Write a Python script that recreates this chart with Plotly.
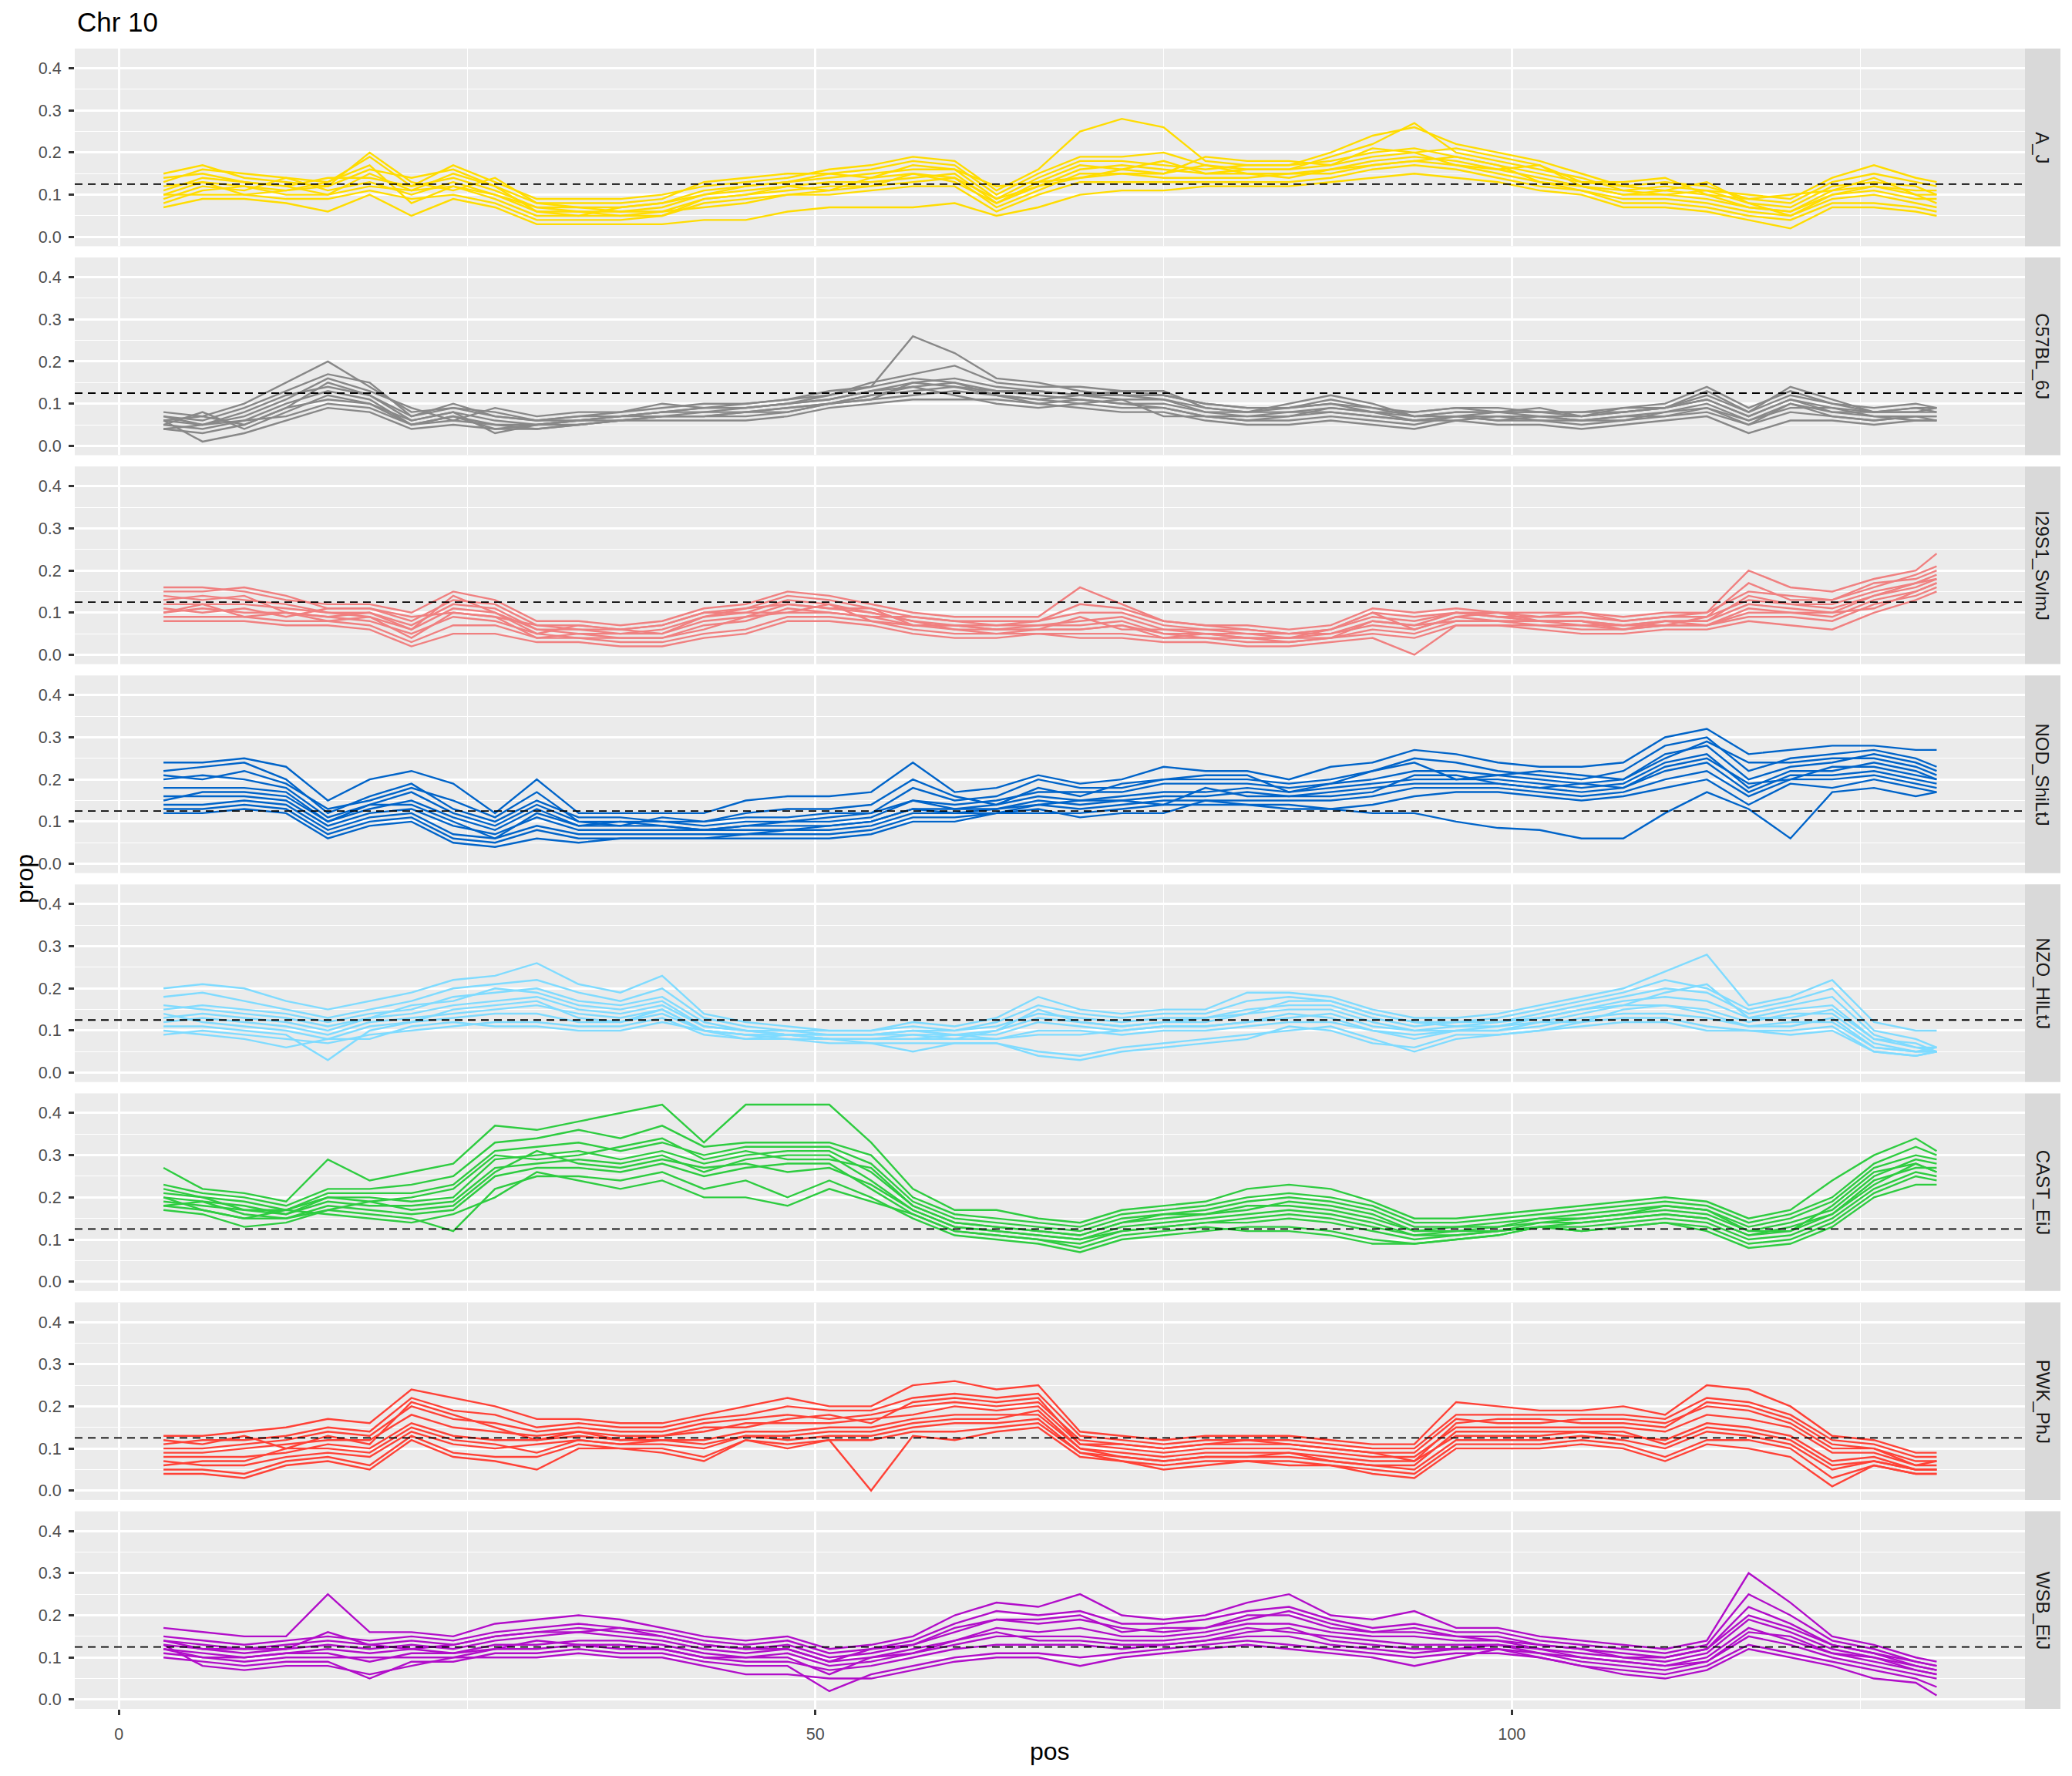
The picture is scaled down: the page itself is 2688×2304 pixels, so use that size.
import plotly.graph_objects as go

# ---------------- data ----------------
pos = [3.2, 6, 9, 12, 15, 18, 21, 24, 27, 30, 33, 36, 39, 42, 45, 48, 51, 54, 57, 60,
       63, 66, 69, 72, 75, 78, 81, 84, 87, 90, 93, 96, 99, 102, 105, 108, 111, 114,
       117, 120, 123, 126, 129, 130.5]

strains = ["A_J", "C57BL_6J", "I29S1_SvImJ", "NOD_ShiLtJ", "NZO_HlLtJ",
           "CAST_EiJ", "PWK_PhJ", "WSB_EiJ"]
colors = ["#FFDC00", "#888888", "#F08080", "#0064C9", "#7FDBFF",
          "#2ECC40", "#FF4136", "#B10DC9"]

aj = [
    [0.13,0.16,0.15,0.14,0.13,0.19,0.12,0.17,0.13,0.09,0.09,0.09,0.1,0.12,0.13,0.14,0.16,0.17,0.19,0.18,0.11,0.16,0.25,0.28,0.26,0.18,0.17,0.17,0.2,0.24,0.26,0.22,0.2,0.18,0.15,0.12,0.13,0.12,0.09,0.08,0.13,0.15,0.13,0.12],
    [0.15,0.17,0.14,0.13,0.12,0.16,0.14,0.16,0.12,0.08,0.08,0.08,0.09,0.13,0.14,0.15,0.15,0.16,0.18,0.17,0.1,0.15,0.19,0.19,0.2,0.17,0.16,0.16,0.19,0.22,0.27,0.2,0.18,0.16,0.14,0.11,0.12,0.11,0.1,0.09,0.14,0.17,0.14,0.13],
    [0.11,0.14,0.13,0.12,0.14,0.14,0.12,0.14,0.11,0.07,0.07,0.07,0.08,0.11,0.12,0.13,0.14,0.15,0.16,0.16,0.09,0.14,0.18,0.18,0.17,0.16,0.17,0.17,0.18,0.2,0.21,0.19,0.17,0.15,0.13,0.12,0.11,0.13,0.08,0.07,0.12,0.13,0.12,0.1],
    [0.09,0.12,0.11,0.14,0.11,0.13,0.1,0.13,0.1,0.06,0.06,0.06,0.07,0.1,0.11,0.12,0.13,0.13,0.14,0.15,0.08,0.12,0.16,0.17,0.16,0.15,0.15,0.14,0.16,0.18,0.19,0.18,0.16,0.14,0.12,0.1,0.1,0.09,0.07,0.06,0.1,0.11,0.09,0.09],
    [0.08,0.11,0.12,0.1,0.1,0.12,0.11,0.12,0.09,0.05,0.05,0.05,0.06,0.09,0.1,0.11,0.12,0.12,0.13,0.14,0.07,0.11,0.15,0.15,0.14,0.14,0.14,0.15,0.15,0.17,0.18,0.17,0.15,0.13,0.11,0.09,0.09,0.08,0.06,0.05,0.09,0.1,0.08,0.07],
    [0.1,0.1,0.1,0.09,0.09,0.11,0.09,0.1,0.08,0.04,0.04,0.04,0.05,0.08,0.09,0.1,0.1,0.11,0.12,0.12,0.06,0.1,0.13,0.13,0.13,0.13,0.13,0.13,0.14,0.16,0.17,0.16,0.14,0.12,0.11,0.08,0.08,0.07,0.05,0.04,0.08,0.08,0.07,0.06],
    [0.07,0.09,0.09,0.08,0.06,0.1,0.05,0.09,0.07,0.03,0.03,0.03,0.03,0.04,0.04,0.06,0.07,0.07,0.07,0.08,0.05,0.07,0.1,0.11,0.11,0.12,0.12,0.12,0.13,0.14,0.15,0.14,0.13,0.11,0.1,0.07,0.07,0.06,0.04,0.02,0.07,0.07,0.06,0.05],
    [0.12,0.13,0.12,0.11,0.12,0.2,0.13,0.11,0.14,0.08,0.07,0.06,0.06,0.07,0.08,0.1,0.11,0.14,0.17,0.16,0.12,0.13,0.14,0.15,0.15,0.19,0.18,0.18,0.17,0.19,0.2,0.21,0.19,0.17,0.13,0.13,0.14,0.1,0.09,0.1,0.11,0.12,0.11,0.11],
    [0.14,0.15,0.13,0.12,0.1,0.15,0.11,0.15,0.12,0.06,0.05,0.07,0.08,0.1,0.12,0.13,0.15,0.14,0.15,0.13,0.08,0.13,0.17,0.16,0.18,0.15,0.16,0.16,0.17,0.21,0.2,0.17,0.16,0.17,0.12,0.1,0.11,0.1,0.07,0.06,0.11,0.14,0.1,0.08],
    [0.1,0.13,0.1,0.11,0.13,0.17,0.08,0.12,0.1,0.07,0.06,0.05,0.05,0.09,0.1,0.12,0.11,0.12,0.15,0.14,0.09,0.12,0.14,0.16,0.15,0.17,0.15,0.15,0.16,0.17,0.18,0.19,0.17,0.13,0.12,0.11,0.1,0.11,0.08,0.05,0.1,0.12,0.1,0.1],
]

b6 = [
    [0.08,0.07,0.1,0.15,0.2,0.14,0.08,0.09,0.08,0.06,0.07,0.08,0.09,0.1,0.1,0.11,0.13,0.14,0.26,0.22,0.16,0.15,0.13,0.12,0.12,0.1,0.09,0.09,0.11,0.09,0.08,0.09,0.09,0.08,0.08,0.09,0.1,0.14,0.09,0.13,0.1,0.09,0.1,0.09],
    [0.07,0.06,0.09,0.13,0.17,0.15,0.07,0.1,0.07,0.06,0.07,0.07,0.08,0.09,0.09,0.1,0.12,0.15,0.17,0.19,0.15,0.14,0.14,0.13,0.13,0.09,0.08,0.1,0.12,0.1,0.07,0.08,0.08,0.09,0.07,0.08,0.09,0.12,0.08,0.14,0.11,0.08,0.09,0.09],
    [0.06,0.05,0.08,0.12,0.14,0.12,0.06,0.08,0.06,0.05,0.06,0.07,0.08,0.08,0.09,0.1,0.11,0.13,0.15,0.16,0.14,0.13,0.12,0.11,0.11,0.09,0.08,0.08,0.09,0.08,0.07,0.08,0.08,0.07,0.07,0.08,0.09,0.11,0.07,0.11,0.09,0.08,0.08,0.08],
    [0.05,0.04,0.06,0.1,0.13,0.11,0.05,0.07,0.05,0.05,0.06,0.07,0.07,0.08,0.08,0.09,0.1,0.12,0.13,0.14,0.13,0.12,0.11,0.1,0.1,0.08,0.07,0.07,0.08,0.07,0.06,0.07,0.07,0.07,0.06,0.07,0.08,0.1,0.06,0.1,0.08,0.07,0.07,0.07],
    [0.04,0.03,0.05,0.09,0.11,0.1,0.05,0.06,0.05,0.04,0.05,0.06,0.07,0.07,0.07,0.08,0.1,0.11,0.12,0.13,0.12,0.11,0.1,0.09,0.09,0.07,0.06,0.06,0.07,0.06,0.05,0.07,0.06,0.06,0.05,0.06,0.07,0.08,0.05,0.08,0.07,0.06,0.07,0.07],
    [0.06,0.01,0.03,0.06,0.09,0.08,0.04,0.05,0.04,0.04,0.05,0.06,0.06,0.06,0.06,0.07,0.09,0.1,0.11,0.11,0.11,0.1,0.09,0.08,0.08,0.06,0.05,0.05,0.06,0.05,0.04,0.06,0.05,0.05,0.04,0.05,0.06,0.07,0.03,0.06,0.06,0.05,0.06,0.06],
    [0.07,0.05,0.07,0.11,0.16,0.13,0.09,0.06,0.09,0.07,0.08,0.08,0.1,0.09,0.1,0.11,0.12,0.14,0.16,0.15,0.12,0.11,0.12,0.13,0.12,0.1,0.09,0.09,0.1,0.08,0.08,0.09,0.08,0.08,0.07,0.09,0.09,0.13,0.08,0.12,0.1,0.08,0.09,0.08],
    [0.05,0.08,0.04,0.08,0.12,0.1,0.06,0.08,0.03,0.05,0.05,0.06,0.07,0.07,0.08,0.08,0.1,0.12,0.14,0.12,0.1,0.09,0.1,0.11,0.07,0.07,0.07,0.08,0.08,0.07,0.06,0.06,0.07,0.06,0.06,0.06,0.08,0.09,0.06,0.09,0.09,0.07,0.06,0.06],
    [0.06,0.07,0.05,0.09,0.15,0.12,0.07,0.09,0.07,0.06,0.06,0.07,0.08,0.09,0.09,0.1,0.11,0.13,0.14,0.15,0.13,0.13,0.12,0.12,0.11,0.08,0.08,0.09,0.1,0.09,0.07,0.07,0.08,0.08,0.08,0.08,0.09,0.11,0.07,0.11,0.08,0.08,0.08,0.09],
    [0.04,0.05,0.06,0.07,0.1,0.09,0.05,0.07,0.04,0.05,0.06,0.06,0.07,0.07,0.08,0.09,0.1,0.11,0.15,0.14,0.12,0.1,0.11,0.1,0.09,0.07,0.06,0.07,0.09,0.08,0.06,0.07,0.06,0.07,0.06,0.07,0.07,0.09,0.05,0.1,0.07,0.06,0.07,0.06],
]

s129 = [
    [0.16,0.16,0.15,0.13,0.12,0.12,0.1,0.15,0.13,0.08,0.08,0.07,0.08,0.11,0.12,0.15,0.14,0.12,0.1,0.09,0.09,0.09,0.16,0.12,0.08,0.07,0.07,0.06,0.07,0.11,0.1,0.11,0.1,0.1,0.1,0.09,0.1,0.1,0.2,0.16,0.15,0.18,0.2,0.24],
    [0.15,0.15,0.16,0.14,0.11,0.11,0.08,0.13,0.12,0.07,0.07,0.06,0.07,0.1,0.11,0.14,0.13,0.11,0.09,0.08,0.08,0.08,0.1,0.1,0.07,0.06,0.06,0.05,0.06,0.09,0.08,0.1,0.09,0.09,0.09,0.08,0.09,0.09,0.17,0.13,0.13,0.16,0.19,0.21],
    [0.13,0.14,0.13,0.12,0.1,0.1,0.07,0.12,0.11,0.06,0.06,0.05,0.06,0.09,0.1,0.13,0.12,0.1,0.08,0.07,0.07,0.07,0.08,0.09,0.06,0.06,0.05,0.05,0.05,0.08,0.07,0.1,0.09,0.08,0.08,0.07,0.08,0.08,0.14,0.12,0.12,0.15,0.17,0.19],
    [0.12,0.12,0.12,0.11,0.1,0.09,0.06,0.11,0.1,0.06,0.05,0.05,0.05,0.08,0.09,0.12,0.11,0.1,0.08,0.06,0.06,0.07,0.07,0.08,0.05,0.05,0.05,0.04,0.05,0.07,0.06,0.09,0.08,0.08,0.07,0.07,0.08,0.08,0.12,0.11,0.1,0.14,0.16,0.18],
    [0.1,0.11,0.1,0.1,0.09,0.08,0.05,0.09,0.08,0.05,0.04,0.04,0.04,0.07,0.08,0.11,0.1,0.09,0.07,0.06,0.05,0.06,0.06,0.07,0.05,0.04,0.04,0.04,0.04,0.06,0.05,0.08,0.08,0.07,0.07,0.06,0.07,0.07,0.1,0.1,0.09,0.13,0.15,0.17],
    [0.09,0.09,0.09,0.08,0.08,0.07,0.03,0.07,0.07,0.04,0.04,0.03,0.03,0.05,0.06,0.09,0.09,0.08,0.06,0.05,0.05,0.05,0.05,0.05,0.04,0.04,0.03,0.03,0.04,0.05,0.04,0.07,0.07,0.07,0.06,0.06,0.07,0.07,0.09,0.09,0.08,0.12,0.14,0.16],
    [0.08,0.08,0.08,0.07,0.07,0.06,0.02,0.05,0.05,0.03,0.03,0.02,0.02,0.04,0.05,0.08,0.08,0.07,0.05,0.04,0.04,0.05,0.04,0.04,0.03,0.03,0.02,0.02,0.03,0.04,0.0,0.07,0.07,0.06,0.05,0.05,0.06,0.06,0.08,0.07,0.06,0.1,0.13,0.15],
    [0.11,0.1,0.11,0.09,0.11,0.11,0.09,0.1,0.09,0.07,0.06,0.06,0.07,0.1,0.1,0.1,0.1,0.09,0.09,0.08,0.07,0.08,0.12,0.11,0.08,0.07,0.06,0.05,0.06,0.1,0.09,0.1,0.1,0.09,0.1,0.08,0.09,0.1,0.15,0.14,0.13,0.17,0.18,0.2],
    [0.14,0.13,0.14,0.1,0.09,0.1,0.06,0.14,0.1,0.05,0.07,0.06,0.05,0.09,0.11,0.12,0.11,0.11,0.07,0.07,0.06,0.06,0.09,0.06,0.06,0.05,0.04,0.04,0.06,0.1,0.06,0.09,0.1,0.08,0.08,0.07,0.07,0.09,0.13,0.12,0.11,0.14,0.17,0.18],
    [0.1,0.12,0.09,0.1,0.08,0.09,0.04,0.1,0.09,0.04,0.05,0.04,0.04,0.06,0.09,0.1,0.12,0.08,0.07,0.07,0.06,0.06,0.06,0.07,0.04,0.05,0.04,0.03,0.04,0.08,0.07,0.08,0.08,0.08,0.08,0.06,0.08,0.07,0.11,0.1,0.1,0.11,0.15,0.17],
]

nod = [
    [0.24,0.24,0.25,0.23,0.15,0.2,0.22,0.19,0.12,0.2,0.12,0.12,0.12,0.12,0.15,0.16,0.16,0.17,0.24,0.17,0.18,0.21,0.19,0.2,0.23,0.22,0.22,0.2,0.23,0.24,0.27,0.26,0.24,0.23,0.23,0.24,0.3,0.32,0.26,0.27,0.28,0.28,0.27,0.27],
    [0.22,0.23,0.24,0.2,0.12,0.16,0.19,0.13,0.1,0.15,0.11,0.11,0.1,0.1,0.11,0.11,0.12,0.12,0.18,0.15,0.16,0.2,0.18,0.18,0.2,0.2,0.2,0.19,0.2,0.22,0.25,0.24,0.22,0.21,0.2,0.22,0.28,0.3,0.22,0.25,0.26,0.27,0.25,0.23],
    [0.2,0.21,0.2,0.18,0.11,0.14,0.17,0.12,0.09,0.14,0.1,0.1,0.1,0.09,0.1,0.1,0.1,0.11,0.15,0.14,0.15,0.17,0.17,0.17,0.19,0.19,0.19,0.18,0.19,0.2,0.22,0.22,0.21,0.2,0.19,0.2,0.26,0.28,0.2,0.23,0.24,0.26,0.24,0.22],
    [0.18,0.18,0.18,0.17,0.1,0.13,0.15,0.11,0.08,0.13,0.09,0.09,0.09,0.08,0.09,0.09,0.09,0.1,0.13,0.13,0.14,0.16,0.15,0.16,0.17,0.17,0.18,0.17,0.18,0.19,0.2,0.2,0.2,0.19,0.18,0.19,0.24,0.26,0.18,0.22,0.22,0.24,0.22,0.2],
    [0.16,0.16,0.16,0.15,0.09,0.12,0.13,0.09,0.07,0.11,0.08,0.08,0.08,0.08,0.08,0.08,0.08,0.09,0.12,0.12,0.13,0.15,0.14,0.15,0.16,0.16,0.17,0.16,0.17,0.18,0.19,0.19,0.19,0.18,0.17,0.18,0.22,0.24,0.17,0.21,0.21,0.22,0.2,0.19],
    [0.14,0.14,0.15,0.14,0.08,0.11,0.12,0.07,0.06,0.09,0.07,0.07,0.07,0.07,0.07,0.07,0.07,0.08,0.11,0.11,0.12,0.14,0.13,0.14,0.15,0.15,0.15,0.15,0.15,0.16,0.18,0.18,0.18,0.17,0.16,0.17,0.2,0.22,0.16,0.2,0.2,0.21,0.19,0.18],
    [0.13,0.13,0.14,0.13,0.07,0.1,0.11,0.06,0.05,0.08,0.06,0.06,0.06,0.06,0.06,0.06,0.06,0.07,0.1,0.1,0.12,0.12,0.12,0.13,0.14,0.14,0.14,0.14,0.13,0.14,0.16,0.17,0.17,0.16,0.15,0.16,0.18,0.2,0.14,0.19,0.18,0.2,0.18,0.17],
    [0.12,0.12,0.13,0.12,0.06,0.09,0.1,0.05,0.04,0.06,0.05,0.06,0.06,0.06,0.07,0.08,0.09,0.1,0.13,0.12,0.12,0.13,0.11,0.12,0.12,0.15,0.14,0.13,0.13,0.12,0.12,0.1,0.085,0.08,0.06,0.06,0.12,0.17,0.13,0.06,0.17,0.18,0.16,0.17],
    [0.21,0.2,0.22,0.19,0.13,0.15,0.18,0.15,0.11,0.17,0.1,0.09,0.11,0.1,0.12,0.13,0.13,0.14,0.2,0.16,0.14,0.18,0.16,0.19,0.2,0.21,0.21,0.17,0.19,0.22,0.24,0.2,0.21,0.22,0.21,0.2,0.25,0.29,0.24,0.24,0.25,0.25,0.23,0.21],
    [0.15,0.17,0.17,0.16,0.1,0.14,0.14,0.1,0.06,0.12,0.09,0.1,0.09,0.08,0.09,0.1,0.11,0.12,0.15,0.13,0.13,0.14,0.15,0.15,0.14,0.18,0.16,0.16,0.16,0.17,0.21,0.21,0.19,0.18,0.19,0.18,0.23,0.25,0.19,0.2,0.23,0.23,0.21,0.2],
]

nzo = [
    [0.2,0.21,0.2,0.17,0.15,0.17,0.19,0.22,0.23,0.26,0.21,0.19,0.23,0.14,0.12,0.11,0.1,0.1,0.12,0.11,0.13,0.18,0.15,0.14,0.15,0.15,0.19,0.19,0.18,0.15,0.13,0.13,0.14,0.16,0.18,0.2,0.24,0.28,0.16,0.18,0.22,0.12,0.1,0.1],
    [0.18,0.19,0.17,0.15,0.13,0.15,0.17,0.2,0.21,0.22,0.19,0.17,0.2,0.13,0.11,0.1,0.1,0.1,0.11,0.1,0.12,0.16,0.14,0.13,0.14,0.14,0.17,0.18,0.17,0.14,0.12,0.12,0.13,0.15,0.17,0.19,0.22,0.2,0.15,0.17,0.2,0.1,0.08,0.06],
    [0.15,0.16,0.15,0.14,0.12,0.14,0.15,0.18,0.19,0.2,0.17,0.16,0.18,0.12,0.1,0.1,0.09,0.09,0.1,0.1,0.11,0.14,0.13,0.12,0.13,0.13,0.15,0.16,0.16,0.13,0.11,0.12,0.12,0.14,0.16,0.18,0.2,0.19,0.14,0.16,0.18,0.09,0.06,0.06],
    [0.13,0.14,0.13,0.12,0.1,0.13,0.14,0.16,0.17,0.18,0.15,0.14,0.16,0.11,0.1,0.09,0.09,0.09,0.1,0.09,0.1,0.13,0.12,0.11,0.12,0.12,0.14,0.15,0.15,0.12,0.1,0.11,0.12,0.13,0.15,0.17,0.18,0.17,0.13,0.15,0.16,0.08,0.06,0.05],
    [0.12,0.13,0.12,0.11,0.09,0.12,0.13,0.14,0.15,0.16,0.14,0.13,0.15,0.1,0.09,0.09,0.08,0.08,0.09,0.09,0.09,0.12,0.11,0.1,0.11,0.11,0.12,0.13,0.14,0.11,0.1,0.1,0.11,0.12,0.14,0.16,0.16,0.15,0.12,0.14,0.14,0.07,0.05,0.05],
    [0.11,0.11,0.1,0.09,0.03,0.1,0.12,0.13,0.14,0.14,0.12,0.12,0.14,0.1,0.09,0.08,0.08,0.08,0.08,0.08,0.08,0.1,0.1,0.09,0.1,0.1,0.11,0.12,0.12,0.1,0.09,0.1,0.1,0.11,0.13,0.14,0.14,0.13,0.11,0.12,0.12,0.06,0.05,0.05],
    [0.09,0.1,0.09,0.08,0.07,0.09,0.1,0.11,0.12,0.12,0.11,0.11,0.13,0.09,0.08,0.08,0.07,0.07,0.05,0.07,0.07,0.05,0.04,0.06,0.07,0.08,0.09,0.1,0.11,0.08,0.05,0.08,0.09,0.1,0.12,0.13,0.13,0.11,0.1,0.1,0.11,0.05,0.04,0.05],
    [0.1,0.09,0.08,0.06,0.08,0.08,0.11,0.12,0.11,0.11,0.1,0.1,0.12,0.1,0.08,0.09,0.08,0.07,0.07,0.07,0.07,0.04,0.03,0.05,0.06,0.07,0.08,0.11,0.1,0.07,0.06,0.09,0.09,0.1,0.11,0.12,0.12,0.1,0.1,0.09,0.1,0.05,0.04,0.05],
    [0.16,0.15,0.14,0.13,0.11,0.13,0.16,0.17,0.2,0.19,0.16,0.15,0.17,0.11,0.1,0.09,0.09,0.09,0.09,0.08,0.1,0.15,0.12,0.11,0.12,0.13,0.14,0.17,0.17,0.14,0.12,0.11,0.11,0.13,0.15,0.16,0.19,0.21,0.13,0.13,0.15,0.08,0.07,0.05],
    [0.14,0.12,0.11,0.1,0.08,0.11,0.12,0.15,0.16,0.17,0.13,0.12,0.15,0.1,0.09,0.09,0.08,0.08,0.08,0.09,0.08,0.09,0.09,0.1,0.11,0.11,0.12,0.14,0.13,0.1,0.08,0.1,0.1,0.12,0.12,0.15,0.16,0.14,0.11,0.11,0.13,0.06,0.05,0.06],
]

cast = [
    [0.27,0.22,0.21,0.19,0.29,0.24,0.26,0.28,0.37,0.36,0.38,0.4,0.42,0.33,0.42,0.42,0.42,0.33,0.22,0.17,0.17,0.15,0.14,0.17,0.18,0.19,0.22,0.23,0.22,0.19,0.15,0.15,0.16,0.17,0.18,0.19,0.2,0.19,0.15,0.17,0.24,0.3,0.34,0.31],
    [0.23,0.21,0.2,0.18,0.22,0.22,0.23,0.25,0.33,0.34,0.36,0.34,0.37,0.32,0.33,0.33,0.33,0.3,0.2,0.16,0.15,0.14,0.13,0.16,0.17,0.18,0.2,0.21,0.2,0.18,0.14,0.14,0.15,0.16,0.17,0.18,0.19,0.18,0.14,0.16,0.2,0.28,0.32,0.3],
    [0.21,0.2,0.19,0.17,0.21,0.21,0.21,0.23,0.31,0.32,0.33,0.31,0.33,0.3,0.32,0.32,0.32,0.28,0.19,0.15,0.14,0.13,0.12,0.15,0.16,0.17,0.19,0.2,0.19,0.17,0.13,0.13,0.14,0.15,0.16,0.17,0.18,0.17,0.13,0.15,0.19,0.27,0.3,0.29],
    [0.2,0.19,0.18,0.16,0.2,0.2,0.19,0.2,0.29,0.3,0.31,0.29,0.31,0.28,0.3,0.31,0.31,0.26,0.18,0.14,0.13,0.12,0.11,0.14,0.15,0.16,0.17,0.19,0.18,0.16,0.12,0.13,0.13,0.14,0.15,0.16,0.17,0.16,0.12,0.14,0.17,0.25,0.29,0.28],
    [0.19,0.18,0.17,0.16,0.19,0.18,0.18,0.19,0.27,0.28,0.29,0.28,0.3,0.26,0.29,0.3,0.3,0.24,0.17,0.13,0.12,0.11,0.1,0.13,0.14,0.15,0.16,0.17,0.16,0.14,0.11,0.12,0.12,0.14,0.14,0.15,0.16,0.15,0.11,0.13,0.16,0.24,0.27,0.27],
    [0.18,0.17,0.15,0.15,0.18,0.17,0.16,0.17,0.25,0.27,0.27,0.26,0.28,0.25,0.27,0.28,0.28,0.22,0.16,0.12,0.11,0.1,0.09,0.12,0.13,0.14,0.14,0.15,0.14,0.12,0.1,0.11,0.12,0.13,0.13,0.14,0.15,0.14,0.1,0.11,0.15,0.22,0.26,0.25],
    [0.17,0.16,0.13,0.14,0.17,0.16,0.15,0.12,0.22,0.25,0.25,0.24,0.26,0.22,0.24,0.2,0.24,0.2,0.15,0.11,0.1,0.09,0.07,0.1,0.11,0.12,0.13,0.13,0.12,0.1,0.09,0.1,0.11,0.13,0.12,0.13,0.14,0.13,0.09,0.1,0.14,0.21,0.25,0.24],
    [0.2,0.17,0.15,0.17,0.16,0.15,0.14,0.16,0.2,0.26,0.24,0.22,0.24,0.2,0.2,0.18,0.22,0.19,0.16,0.12,0.11,0.1,0.08,0.11,0.12,0.13,0.12,0.12,0.11,0.09,0.09,0.1,0.11,0.13,0.12,0.13,0.14,0.12,0.08,0.09,0.13,0.2,0.23,0.23],
    [0.22,0.2,0.17,0.17,0.2,0.19,0.2,0.22,0.3,0.29,0.3,0.32,0.34,0.29,0.31,0.29,0.29,0.27,0.18,0.14,0.13,0.12,0.11,0.14,0.16,0.16,0.18,0.18,0.17,0.15,0.12,0.12,0.13,0.15,0.15,0.16,0.18,0.17,0.12,0.12,0.18,0.26,0.28,0.26],
    [0.18,0.19,0.16,0.15,0.17,0.19,0.17,0.18,0.26,0.31,0.28,0.27,0.29,0.27,0.28,0.26,0.27,0.23,0.17,0.13,0.12,0.11,0.1,0.12,0.13,0.14,0.15,0.16,0.15,0.13,0.11,0.11,0.12,0.13,0.14,0.15,0.16,0.15,0.11,0.12,0.16,0.23,0.28,0.26],
]

pwk = [
    [0.13,0.13,0.14,0.15,0.17,0.16,0.24,0.22,0.2,0.17,0.17,0.16,0.16,0.18,0.2,0.22,0.2,0.2,0.25,0.26,0.24,0.25,0.14,0.13,0.12,0.13,0.13,0.13,0.12,0.11,0.11,0.21,0.2,0.19,0.19,0.2,0.18,0.25,0.24,0.2,0.13,0.12,0.09,0.09],
    [0.11,0.12,0.12,0.13,0.15,0.14,0.22,0.19,0.18,0.15,0.16,0.15,0.15,0.17,0.18,0.2,0.19,0.19,0.22,0.23,0.22,0.23,0.13,0.12,0.11,0.12,0.12,0.12,0.11,0.1,0.1,0.18,0.18,0.18,0.18,0.18,0.17,0.22,0.21,0.18,0.12,0.11,0.08,0.08],
    [0.1,0.1,0.11,0.12,0.14,0.13,0.2,0.17,0.16,0.14,0.15,0.14,0.14,0.16,0.17,0.18,0.17,0.18,0.2,0.21,0.2,0.21,0.12,0.11,0.1,0.11,0.11,0.11,0.1,0.09,0.09,0.17,0.16,0.16,0.17,0.17,0.16,0.2,0.19,0.16,0.1,0.1,0.07,0.07],
    [0.09,0.09,0.1,0.11,0.12,0.12,0.18,0.15,0.14,0.13,0.14,0.13,0.13,0.14,0.16,0.16,0.16,0.17,0.18,0.2,0.19,0.2,0.11,0.1,0.09,0.1,0.1,0.1,0.09,0.08,0.08,0.15,0.15,0.15,0.15,0.15,0.14,0.18,0.17,0.15,0.09,0.09,0.06,0.06],
    [0.08,0.08,0.08,0.09,0.11,0.1,0.16,0.13,0.12,0.12,0.13,0.12,0.12,0.12,0.14,0.14,0.15,0.15,0.17,0.18,0.18,0.18,0.1,0.09,0.08,0.09,0.09,0.09,0.08,0.07,0.07,0.13,0.13,0.13,0.14,0.13,0.12,0.16,0.15,0.13,0.07,0.08,0.05,0.05],
    [0.07,0.06,0.06,0.08,0.09,0.08,0.14,0.11,0.1,0.11,0.12,0.11,0.11,0.1,0.13,0.12,0.13,0.13,0.15,0.16,0.16,0.17,0.09,0.08,0.07,0.08,0.08,0.08,0.07,0.06,0.05,0.12,0.12,0.12,0.13,0.12,0.1,0.14,0.13,0.11,0.05,0.07,0.05,0.05],
    [0.05,0.05,0.04,0.07,0.08,0.06,0.13,0.09,0.08,0.08,0.11,0.1,0.1,0.08,0.12,0.11,0.12,0.12,0.14,0.14,0.15,0.16,0.09,0.07,0.06,0.07,0.07,0.07,0.06,0.05,0.04,0.11,0.11,0.11,0.12,0.11,0.08,0.12,0.12,0.1,0.03,0.06,0.04,0.04],
    [0.04,0.04,0.03,0.06,0.07,0.05,0.12,0.08,0.07,0.05,0.1,0.1,0.09,0.07,0.12,0.1,0.12,0.0,0.13,0.12,0.14,0.15,0.08,0.07,0.05,0.06,0.07,0.06,0.06,0.04,0.03,0.1,0.1,0.1,0.11,0.1,0.07,0.11,0.1,0.08,0.01,0.06,0.04,0.04],
    [0.12,0.11,0.13,0.1,0.13,0.11,0.21,0.18,0.15,0.12,0.14,0.12,0.13,0.15,0.15,0.17,0.18,0.16,0.21,0.22,0.21,0.22,0.11,0.11,0.1,0.11,0.12,0.11,0.1,0.09,0.07,0.16,0.17,0.17,0.16,0.16,0.15,0.21,0.2,0.17,0.11,0.1,0.06,0.07],
    [0.06,0.07,0.07,0.1,0.1,0.09,0.15,0.12,0.11,0.09,0.12,0.11,0.12,0.11,0.13,0.13,0.14,0.14,0.16,0.17,0.17,0.19,0.1,0.08,0.07,0.08,0.08,0.09,0.07,0.06,0.06,0.14,0.14,0.14,0.14,0.14,0.11,0.15,0.14,0.12,0.06,0.07,0.05,0.05],
]

wsb = [
    [0.17,0.16,0.15,0.15,0.25,0.16,0.16,0.15,0.18,0.19,0.2,0.19,0.17,0.15,0.14,0.15,0.12,0.13,0.15,0.2,0.23,0.22,0.25,0.2,0.19,0.2,0.23,0.25,0.2,0.19,0.21,0.17,0.17,0.15,0.14,0.13,0.12,0.14,0.3,0.23,0.15,0.13,0.1,0.09],
    [0.15,0.14,0.13,0.14,0.15,0.14,0.15,0.14,0.16,0.17,0.18,0.17,0.16,0.14,0.13,0.14,0.11,0.12,0.14,0.18,0.21,0.2,0.21,0.18,0.18,0.19,0.21,0.22,0.19,0.17,0.18,0.16,0.16,0.14,0.13,0.12,0.11,0.13,0.25,0.2,0.14,0.12,0.09,0.08],
    [0.14,0.13,0.12,0.13,0.14,0.13,0.14,0.13,0.15,0.16,0.17,0.16,0.15,0.13,0.12,0.13,0.1,0.11,0.13,0.16,0.19,0.18,0.19,0.17,0.16,0.17,0.2,0.2,0.17,0.16,0.17,0.15,0.15,0.13,0.12,0.11,0.1,0.12,0.22,0.18,0.13,0.11,0.08,0.07],
    [0.13,0.12,0.11,0.12,0.13,0.12,0.13,0.12,0.14,0.15,0.16,0.15,0.14,0.12,0.11,0.12,0.09,0.1,0.12,0.14,0.17,0.16,0.17,0.15,0.15,0.16,0.18,0.18,0.16,0.15,0.15,0.14,0.14,0.12,0.11,0.1,0.09,0.11,0.19,0.16,0.12,0.1,0.08,0.07],
    [0.12,0.11,0.1,0.11,0.12,0.11,0.12,0.11,0.13,0.13,0.14,0.14,0.13,0.11,0.1,0.11,0.08,0.09,0.11,0.13,0.15,0.15,0.15,0.14,0.14,0.15,0.17,0.16,0.15,0.14,0.13,0.13,0.13,0.12,0.1,0.09,0.08,0.1,0.17,0.14,0.11,0.09,0.07,0.06],
    [0.11,0.1,0.09,0.1,0.1,0.1,0.1,0.1,0.12,0.12,0.13,0.12,0.12,0.1,0.09,0.09,0.07,0.08,0.1,0.12,0.13,0.13,0.13,0.12,0.13,0.14,0.15,0.15,0.13,0.12,0.11,0.12,0.12,0.11,0.09,0.08,0.07,0.09,0.15,0.13,0.1,0.08,0.06,0.05],
    [0.1,0.09,0.08,0.09,0.09,0.05,0.09,0.09,0.11,0.11,0.12,0.11,0.11,0.09,0.08,0.08,0.02,0.06,0.08,0.1,0.11,0.11,0.1,0.11,0.12,0.13,0.14,0.13,0.12,0.11,0.1,0.11,0.11,0.1,0.08,0.07,0.06,0.08,0.13,0.11,0.09,0.07,0.05,0.03],
    [0.13,0.08,0.07,0.08,0.08,0.06,0.08,0.1,0.1,0.1,0.11,0.1,0.1,0.08,0.06,0.06,0.05,0.05,0.07,0.09,0.1,0.1,0.08,0.1,0.11,0.12,0.13,0.12,0.11,0.1,0.08,0.1,0.12,0.1,0.08,0.06,0.05,0.07,0.12,0.1,0.08,0.05,0.04,0.01],
    [0.14,0.12,0.12,0.12,0.16,0.13,0.12,0.13,0.15,0.16,0.16,0.17,0.15,0.13,0.12,0.12,0.09,0.12,0.13,0.17,0.19,0.19,0.2,0.16,0.17,0.17,0.19,0.21,0.18,0.16,0.16,0.15,0.14,0.13,0.12,0.1,0.1,0.12,0.2,0.17,0.13,0.11,0.09,0.08],
    [0.12,0.1,0.1,0.11,0.11,0.09,0.11,0.11,0.12,0.14,0.13,0.13,0.12,0.1,0.1,0.1,0.06,0.1,0.11,0.14,0.16,0.14,0.14,0.13,0.13,0.14,0.16,0.17,0.14,0.13,0.12,0.12,0.13,0.11,0.1,0.09,0.08,0.09,0.16,0.15,0.11,0.1,0.07,0.06],
]

all_lines = [aj, b6, s129, nod, nzo, cast, pwk, wsb]
ref_line = 0.125

# ---------------- layout geometry ----------------
# page has an 8px body margin; figure is sized so that it fits the window
OFF = 8
W, H = 2688 - 2 * OFF, 2304 - 2 * OFF
P_LEFT, P_RIGHT, P_TOP, P_BOTTOM = 97, 2627, 63, 2217   # page px of panel block
ML = P_LEFT - OFF
MR = W - (P_RIGHT - OFF)
MT = P_TOP - OFF
MB = H - (P_BOTTOM - OFF)
PW = W - ML - MR
PH = H - MT - MB
GAP = 14.7
ph = (PH - 7 * GAP) / 8
xr = [-3.17, 136.84]
yr = [-0.0221, 0.4466]
FONT = "Liberation Sans, Arial, sans-serif"


def px_x(page_x):
    return (page_x - P_LEFT) / PW


def px_y(page_y):
    return (P_BOTTOM - page_y) / PH


fig = go.Figure()
layout = dict(
    width=W, height=H,
    margin=dict(l=ML, r=MR, t=MT, b=MB, pad=0),
    paper_bgcolor="white", plot_bgcolor="#EBEBEB",
    showlegend=False,
    font=dict(family=FONT, size=20, color="#4D4D4D"),
)
shapes = []
annotations = []

for i, (name, col, lines) in enumerate(zip(strains, colors, all_lines)):
    sfx = "" if i == 0 else str(i + 1)
    for ys in lines:
        fig.add_trace(go.Scatter(
            x=pos, y=ys, mode="lines",
            line=dict(color=col, width=2.4),
            xaxis="x" + sfx, yaxis="y" + sfx,
            hoverinfo="skip", showlegend=False))
    top = i * (ph + GAP)
    d1 = 1 - top / PH
    d0 = 1 - (top + ph) / PH
    last = (i == 7)
    layout["xaxis" + sfx] = dict(
        domain=[0, 1], anchor="y" + sfx, range=xr, automargin=False,
        tick0=0, dtick=50, showgrid=True, gridcolor="white", gridwidth=2.7,
        minor=dict(tick0=0, dtick=25, showgrid=True, gridcolor="white", gridwidth=1.3),
        zeroline=False, showline=False,
        ticks="outside" if last else "", ticklen=7, tickwidth=2.7, tickcolor="#333333",
        showticklabels=last,
        tickfont=dict(family=FONT, size=21.5, color="#4D4D4D"),
        ticklabelstandoff=6,
    )
    if i > 0:
        layout["xaxis" + sfx]["matches"] = "x"
    layout["yaxis" + sfx] = dict(
        domain=[d0, d1], anchor="x" + sfx, range=yr, automargin=False,
        tick0=0, dtick=0.1, tickformat=".1f",
        showgrid=True, gridcolor="white", gridwidth=2.7,
        minor=dict(tick0=0, dtick=0.05, showgrid=True, gridcolor="white", gridwidth=1.3),
        zeroline=False, showline=False,
        ticks="outside", ticklen=7, tickwidth=2.7, tickcolor="#333333",
        tickfont=dict(family=FONT, size=21.5, color="#4D4D4D"),
        ticklabelstandoff=5,
    )
    # reference dashed line
    shapes.append(dict(
        type="line", xref="x" + sfx + " domain", yref="y" + sfx,
        x0=0, x1=1, y0=ref_line, y1=ref_line,
        line=dict(color="black", width=1.8, dash="10px,7px"), layer="above"))
    # strip
    shapes.append(dict(
        type="rect", xref="paper", yref="paper",
        x0=1.0, x1=px_x(2673), y0=d0, y1=d1,
        fillcolor="#D9D9D9", line=dict(width=0), layer="below"))
    annotations.append(dict(
        text=name, xref="paper", yref="paper",
        x=px_x(2650), y=(d0 + d1) / 2, xanchor="center", yanchor="middle",
        textangle=90, showarrow=False,
        font=dict(family=FONT, size=24, color="#1A1A1A")))

annotations.append(dict(
    text="Chr 10", xref="paper", yref="paper",
    x=px_x(98), y=px_y(28), xanchor="left", yanchor="middle",
    showarrow=False, font=dict(family=FONT, size=35, color="black")))
annotations.append(dict(
    text="pos", xref="paper", yref="paper",
    x=0.5, y=px_y(2272), xanchor="center", yanchor="middle",
    showarrow=False, font=dict(family=FONT, size=32, color="black")))
annotations.append(dict(
    text="prop", xref="paper", yref="paper",
    x=px_x(32), y=0.5, xanchor="center", yanchor="middle",
    textangle=-90, showarrow=False, font=dict(family=FONT, size=32, color="black")))

layout["shapes"] = shapes
layout["annotations"] = annotations
fig.update_layout(**layout)
fig.write_html("out.html")
